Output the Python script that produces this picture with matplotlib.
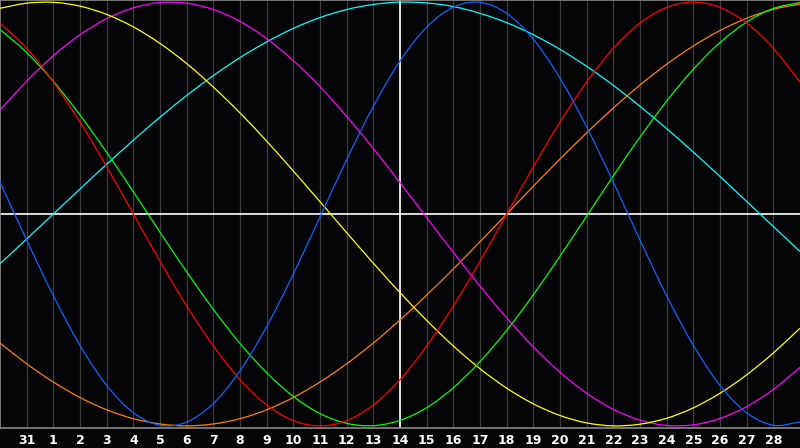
import matplotlib
matplotlib.use("Agg")
import matplotlib.pyplot as plt
from matplotlib.path import Path
from matplotlib.patches import PathPatch
import numpy as np

# day labels under each grid line (index 1..29)
day_labels = ["31"] + [str(d) for d in range(1, 29)]

# curve values (percent), one per grid column 0..30
blue = [15.0, -12.3, -38.6, -62.0, -80.9, -93.8, -99.7, -98.2, -89.4, -74.0, -53.1,
        -28.3, -1.4, 25.7, 50.8, 72.2, 88.2, 97.6, 99.9, 94.7, 82.5, 64.1, 41.1,
        15.0, -12.3, -38.6, -62.0, -80.9, -93.8, -99.7, -98.2]
red = [90.1, 78.2, 62.3, 43.4, 22.3, 0.0, -22.3, -43.4, -62.3, -78.2, -90.1,
       -97.5, -100.0, -97.5, -90.1, -78.2, -62.3, -43.4, -22.3, 0.0, 22.3, 43.4,
       62.3, 78.2, 90.1, 97.5, 100.0, 97.5, 90.1, 78.2, 62.3]
green = [87.1, 76.2, 62.6, 46.7, 29.1, 10.5, -8.6, -27.3, -45.0, -61.1, -74.9,
         -86.1, -94.2, -98.8, -99.9, -97.4, -91.4, -82.0, -69.7, -54.9, -38.1,
         -19.9, -1.0, 18.0, 36.3, 53.3, 68.3, 80.9, 90.6, 97.0, 99.8]
yellow = [97.1, 99.5, 99.9, 98.1, 94.2, 88.3, 80.5, 71.0, 59.9, 47.7, 34.4, 20.3,
          5.8, -8.8, -23.2, -37.1, -50.2, -62.3, -73.0, -82.2, -89.6, -95.1, -98.6,
          -100.0, -99.2, -96.4, -91.5, -84.6, -75.9, -65.6, -53.9]
magenta = [49.0, 62.7, 74.7, 84.6, 92.2, 97.3, 99.8, 99.5, 96.5, 90.9, 82.8, 72.4,
           60.1, 46.1, 30.9, 14.8, -1.7, -18.1, -34.0, -49.0, -62.7, -74.7, -84.6,
           -92.2, -97.3, -99.8, -99.5, -96.5, -90.9, -82.8, -72.4]
cyan = [-23.5, -11.8, 0.0, 11.8, 23.5, 34.8, 45.7, 55.9, 65.3, 73.8, 81.2, 87.6,
        92.7, 96.5, 98.9, 100.0, 99.6, 97.9, 94.7, 90.3, 84.6, 77.7, 69.7, 60.7,
        50.8, 40.3, 29.2, 17.7, 5.9, -5.9, -17.7]
orange = [-60.9, -70.7, -79.3, -86.6, -92.4, -96.6, -99.1, -100.0, -99.1, -96.6,
          -92.4, -86.6, -79.3, -70.7, -60.9, -50.0, -38.3, -25.9, -13.1, 0.0, 13.1,
          25.9, 38.3, 50.0, 60.9, 70.7, 79.3, 86.6, 92.4, 96.6, 99.1]

today = 15

series = [
    (cyan, "#00ffff"),
    (orange, "#ff8000"),
    (magenta, "#ff00ff"),
    (yellow, "#ffff00"),
    (green, "#00ff00"),
    (red, "#ff0000"),
    (blue, "#0a64ff"),
]


def smooth_path(xs, ys):
    # curved line through the points (catmull-rom drawn as bezier segments)
    pts = np.column_stack([xs, ys]).astype(float)
    ext = np.vstack([2 * pts[0] - pts[1], pts, 2 * pts[-1] - pts[-2]])
    verts = [pts[0]]
    codes = [Path.MOVETO]
    for k in range(len(pts) - 1):
        p0, p1, p2, p3 = ext[k], ext[k + 1], ext[k + 2], ext[k + 3]
        verts += [p1 + (p2 - p0) / 6, p2 - (p3 - p1) / 6, p2]
        codes += [Path.CURVE4] * 3
    return Path(verts, codes)


fig = plt.figure(figsize=(8, 4.48), dpi=100, facecolor="#050508")
ax = fig.add_axes([0, 20 / 448, 1, 428 / 448])
ax.set_facecolor("#050508")

days = np.arange(len(blue))
ax.set_xlim(0, 30)
ax.set_ylim(-101, 101)

for i in range(1, 30):
    ax.axvline(i, color="#3c3c3c", lw=0.9, zorder=1)
ax.axvline(today, color="white", lw=1.2, zorder=2)
ax.axhline(0, color="white", lw=1.2, zorder=2)

for vals, col in series:
    patch = PathPatch(smooth_path(days, vals), facecolor="none", edgecolor=col,
                      lw=0.9, zorder=3)
    ax.add_patch(patch)

for s in ax.spines.values():
    s.set_color("#8a8a8a")
    s.set_linewidth(1.2)
ax.spines["right"].set_visible(False)

ax.set_yticks([])
ax.set_xticks(range(1, 30))
ax.set_xticklabels(day_labels, color="white", fontsize=9, fontweight="bold",
                   family="DejaVu Sans")
ax.tick_params(axis="x", length=0, pad=4)

fig.savefig("out.png", dpi=100, facecolor=fig.get_facecolor())
